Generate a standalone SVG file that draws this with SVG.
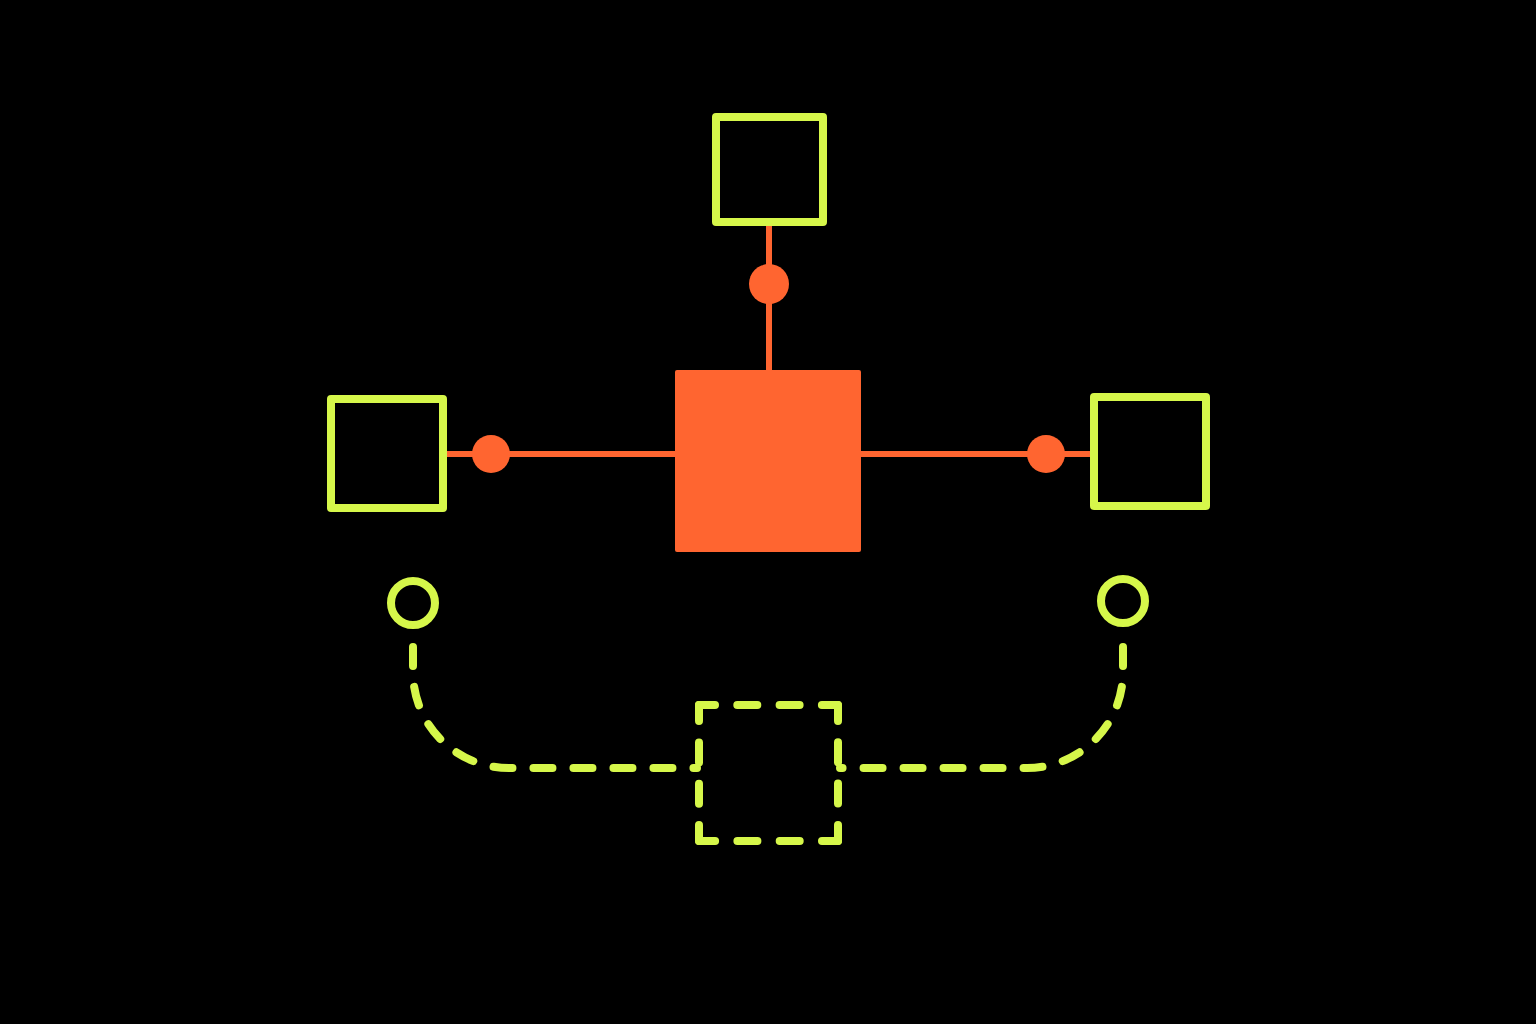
<svg xmlns="http://www.w3.org/2000/svg" width="1536" height="1024" viewBox="0 0 1536 1024">
  <style>
    .box { fill: none; stroke: #D6F74A; stroke-width: 8; stroke-linejoin: round; }
    .ring { fill: none; stroke: #D6F74A; stroke-width: 8; }
    .dash { fill: none; stroke: #D6F74A; stroke-width: 8; stroke-dasharray: 19 21; stroke-linecap: round; }
    .hside { stroke-dasharray: 16 22.3 20 22.3 20 22.3 16 100; }
    .vside { stroke-dasharray: 16 21.3 20 21.3 20 21.3 16 100; }
    .wire { stroke: #FF6530; stroke-width: 6; fill: none; }
    .dot { fill: #FF6530; }
  </style>
  <rect width="1536" height="1024" fill="#000000"/>
  <g id="connectors">
    <line class="wire" x1="769" y1="226" x2="769" y2="372"/>
    <line class="wire" x1="447" y1="454" x2="677" y2="454"/>
    <line class="wire" x1="859" y1="454" x2="1090" y2="454"/>
    <circle class="dot" cx="769" cy="284" r="20"/>
    <circle class="dot" cx="491" cy="454" r="19"/>
    <circle class="dot" cx="1046" cy="454" r="19"/>
    <path class="dash" d="M413,647 V672 A96,96 0 0 0 509,768 H697"/>
    <path class="dash" d="M1123,647 V672 A96,96 0 0 1 1027,768 H840"/>
  </g>
  <g id="center"><rect x="675" y="370" width="186" height="182" rx="2" fill="#FF6530"/></g>
  <g id="top"><rect class="box" x="716" y="117" width="107" height="105"/></g>
  <g id="left"><rect class="box" x="331" y="399" width="112" height="109"/></g>
  <g id="right"><rect class="box" x="1094" y="397" width="112" height="109"/></g>
  <g id="ring-left"><circle class="ring" cx="413" cy="603" r="22"/></g>
  <g id="ring-right"><circle class="ring" cx="1123" cy="601" r="22"/></g>
  <g id="dashed-box">
    <path class="dash hside" d="M699,705 H838"/>
    <path class="dash vside" d="M838,705 V841"/>
    <path class="dash hside" d="M838,841 H699"/>
    <path class="dash vside" d="M699,841 V705"/>
  </g>
</svg>
